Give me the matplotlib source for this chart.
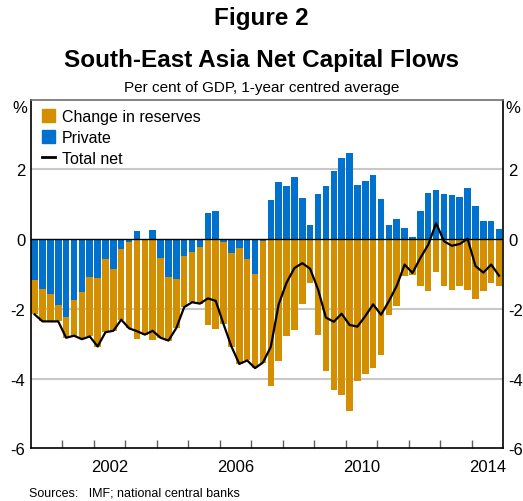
import numpy as np
import matplotlib
matplotlib.use("Agg")
import matplotlib.pyplot as plt
from matplotlib.patches import Patch
from matplotlib.lines import Line2D

plt.rcParams['font.family'] = ['Liberation Sans', 'DejaVu Sans']

# quarterly data, 2000Q1 - 2014Q4, per cent of GDP
private = [-1.17, -1.43, -1.58, -1.89, -2.23, -1.75, -1.52, -1.08, -1.12, -0.57,
           -0.86, -0.29, -0.09, 0.23, 0.00, 0.26, -0.54, -1.08, -1.15, -0.48,
           -0.36, -0.22, 0.75, 0.80, -0.08, -0.40, -0.26, -0.56, -1.00, -0.06,
           1.12, 1.63, 1.52, 1.78, 1.17, 0.40, 1.30, 1.52, 1.95, 2.32,
           2.46, 1.55, 1.66, 1.83, 1.15, 0.40, 0.57, 0.32, 0.06, 0.80,
           1.32, 1.40, 1.29, 1.26, 1.20, 1.46, 0.95, 0.52, 0.52, 0.29]
reserves = [-0.99, -0.93, -0.78, -0.47, -0.60, -1.02, -1.35, -1.71, -1.96, -2.10,
            -1.77, -2.02, -2.47, -2.87, -2.74, -2.89, -2.29, -1.83, -1.40, -1.47,
            -1.45, -1.63, -2.45, -2.57, -2.36, -2.68, -3.32, -2.92, -2.70, -3.48,
            -4.21, -3.50, -2.77, -2.61, -1.86, -1.25, -2.74, -3.77, -4.32, -4.46,
            -4.92, -4.06, -3.87, -3.70, -3.32, -2.18, -1.91, -1.05, -1.03, -1.34,
            -1.48, -0.94, -1.35, -1.45, -1.34, -1.45, -1.72, -1.48, -1.25, -1.34]
total = [-2.16, -2.36, -2.36, -2.36, -2.83, -2.77, -2.87, -2.79, -3.08, -2.67,
         -2.63, -2.31, -2.56, -2.64, -2.74, -2.63, -2.83, -2.91, -2.55, -1.95,
         -1.81, -1.85, -1.70, -1.77, -2.44, -3.08, -3.58, -3.48, -3.70, -3.54,
         -3.09, -1.87, -1.25, -0.83, -0.69, -0.85, -1.44, -2.25, -2.37, -2.14,
         -2.46, -2.51, -2.21, -1.87, -2.17, -1.78, -1.34, -0.73, -0.97, -0.54,
         -0.16, 0.46, -0.06, -0.19, -0.14, 0.01, -0.77, -0.96, -0.73, -1.05]

yticks = [-6, -4, -2, 0, 2]
year_labels = [2002, 2006, 2010, 2014]

orange = '#D38F00'
blue = '#0072CE'

private = np.array(private)
reserves = np.array(reserves)
x = 2000 + (np.arange(len(private)) + 0.5) / 4

fig = plt.figure(figsize=(5.23, 5.02), dpi=100)
ax = fig.add_axes([0.0587, 0.105, 0.9031, 0.6944])

for yv in [-4, -2, 2]:
    ax.axhline(yv, color='#c8c8c8', lw=1.5, zorder=0)

ax.bar(x, private, width=0.207, color=blue, zorder=2)
ax.bar(x, reserves, width=0.207, bottom=np.minimum(private, 0), color=orange, zorder=2)
ax.axhline(0, color='black', lw=1, zorder=3)
ax.plot(x, total, color='black', lw=1.6, zorder=4)

ax.set_xlim(2000, 2015)
ax.set_ylim(-6, 4)
ax.set_yticks(yticks)
ax.set_yticklabels([str(v) for v in yticks])
ax.tick_params(axis='y', length=0, labelsize=12, labelright=True, pad=4)

ax.set_xticks(np.arange(2001, 2015), labels=[])
ax.set_xticks([y + 0.5 for y in year_labels], minor=True)
ax.set_xticklabels([str(y) for y in year_labels], minor=True)
ax.tick_params(axis='x', which='major', direction='in', length=6, width=1, color='#606060')
ax.tick_params(axis='x', which='minor', length=0, labelsize=12, pad=8)

for s in ['left', 'right', 'bottom']:
    ax.spines[s].set_color('black')
    ax.spines[s].set_linewidth(1.2)
ax.spines['top'].set_color('#707070')
ax.spines['top'].set_linewidth(1.2)

handles = [Patch(color=orange, label='Change in reserves'),
           Patch(color=blue, label='Private'),
           Line2D([0], [0], color='black', lw=2, label='Total net')]
ax.legend(handles=handles, loc='upper left', bbox_to_anchor=(0.02, 0.977),
          frameon=False, fontsize=11.5, handlelength=0.85, handleheight=0.85,
          handletextpad=0.4, labelspacing=0.36, borderaxespad=0, borderpad=0.1)

fig.text(0.5, 0.964, 'Figure 2', ha='center', va='center', fontsize=17.5, fontweight='bold')
fig.text(0.5, 0.88, 'South-East Asia Net Capital Flows', ha='center', va='center',
         fontsize=17.5, fontweight='bold')
fig.text(0.5, 0.825, 'Per cent of GDP, 1-year centred average', ha='center', va='center',
         fontsize=11)
fig.text(0.038, 0.783, '%', ha='center', va='center', fontsize=12)
fig.text(0.98, 0.783, '%', ha='center', va='center', fontsize=12)
fig.text(0.055, 0.017, 'Sources:   IMF; national central banks', ha='left', va='center',
         fontsize=9)

fig.savefig('out.png', dpi=100)
